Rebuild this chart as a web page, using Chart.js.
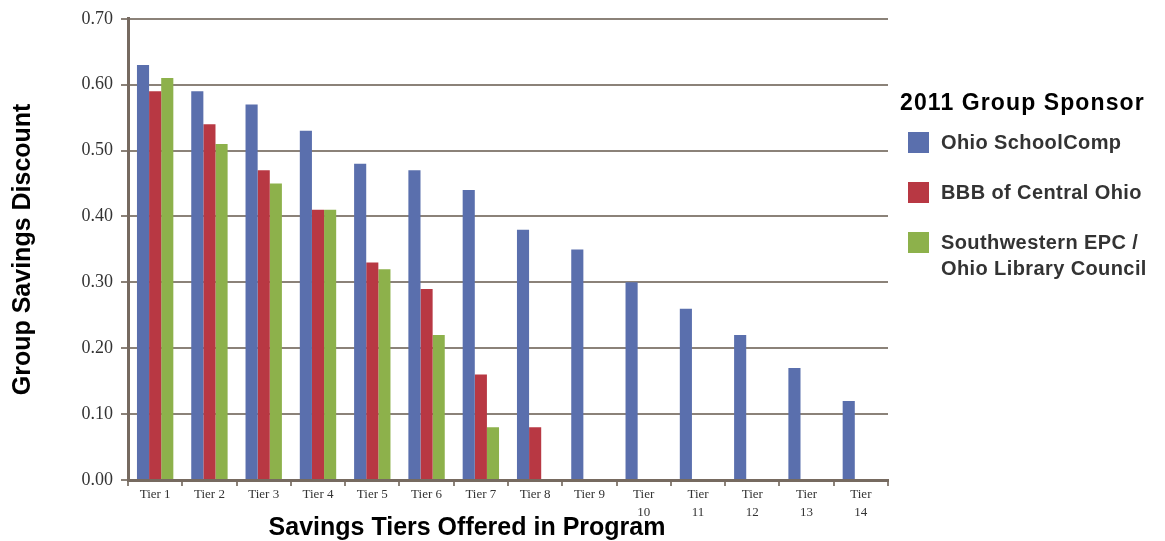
<!DOCTYPE html>
<html>
<head>
<meta charset="utf-8">
<script src="https://cdn.jsdelivr.net/npm/chart.js@4"></script>
<style>
  html, body { margin: 0; padding: 0; background: #fff; }
  #wrap { position: relative; width: 1165px; height: 541px; }
  #legend {
    position: absolute; left: 900px; top: 89px;
    font-family: "Liberation Sans", Arial, sans-serif; font-weight: bold;
  }
  #legend .title { font-size: 23px; letter-spacing: 1.1px; color: #000; margin-bottom: 16px; }
  #legend .item { display: flex; align-items: flex-start; margin: 0 0 27px 8px; }
  #legend .box { width: 21px; height: 21px; margin-right: 12px; flex: none; }
  #legend .lbl { font-size: 20px; letter-spacing: 0.4px; color: #333; line-height: 26px; margin-top: -3px; }
</style>
</head>
<body>
<div id="wrap">
  <canvas id="barChart" width="1165" height="541"></canvas>
  <div id="legend"></div>
</div>
<script>
// Savings discount per tier for each 2011 group sponsor
const tiers = ['Tier 1', 'Tier 2', 'Tier 3', 'Tier 4', 'Tier 5', 'Tier 6', 'Tier 7',
  'Tier 8', 'Tier 9', ['Tier', '10'], ['Tier', '11'], ['Tier', '12'], ['Tier', '13'], ['Tier', '14']];
const schoolComp = [0.63, 0.59, 0.57, 0.53, 0.48, 0.47, 0.44, 0.38, 0.35, 0.30, 0.26, 0.22, 0.17, 0.12];
const bbbCentral = [0.59, 0.54, 0.47, 0.41, 0.33, 0.29, 0.16, 0.08, null, null, null, null, null, null];
const southwestern = [0.61, 0.51, 0.45, 0.41, 0.32, 0.22, 0.08, null, null, null, null, null, null, null];

const sponsors = [
  { name: ['Ohio SchoolComp'], data: schoolComp, color: '#5a6fad' },
  { name: ['BBB of Central Ohio'], data: bbbCentral, color: '#b83843' },
  { name: ['Southwestern EPC /', 'Ohio Library Council'], data: southwestern, color: '#8db14b' }
];

const gridColor = '#8b8279';
const axisColor = '#766a60';
const titleFont = '"Liberation Sans", Arial, sans-serif';

// x-axis title sits a little left of the plot centre, so draw it by hand
const xTitle = {
  id: 'xTitle',
  afterDraw(chart) {
    const c = chart.ctx;
    c.save();
    c.font = 'bold 25px ' + titleFont;
    c.fillStyle = '#000';
    c.textAlign = 'center';
    c.textBaseline = 'middle';
    c.fillText('Savings Tiers Offered in Program', 467, 528);
    c.restore();
  }
};

const ctx = document.getElementById('barChart').getContext('2d');
const barChart = new Chart(ctx, {
  type: 'bar',
  data: {
    labels: tiers,
    datasets: sponsors.map(s => ({
      label: s.name.join(' '),
      data: s.data,
      backgroundColor: s.color,
      barPercentage: 1,
      categoryPercentage: 0.67
    }))
  },
  options: {
    responsive: false,
    animation: false,
    layout: { padding: { left: 0, right: 277, top: 14, bottom: 0 } },
    plugins: {
      legend: { display: false },
      tooltip: { enabled: false }
    },
    scales: {
      x: {
        afterFit: s => { s.height = 61; },
        grid: { drawOnChartArea: false, offset: true, tickLength: 6, color: gridColor, lineWidth: 2 },
        border: { color: axisColor, width: 3 },
        ticks: {
          color: '#333',
          padding: 0,
          font: { family: '"Liberation Serif", "Times New Roman", serif', size: 13, lineHeight: 1.35 },
          maxRotation: 0, autoSkip: false
        }
      },
      y: {
        min: 0, max: 0.7,
        afterFit: s => { s.width = 128; },
        grid: { color: gridColor, lineWidth: 2, tickLength: 7 },
        border: { color: axisColor, width: 3 },
        ticks: {
          stepSize: 0.1,
          color: '#333',
          padding: 8,
          font: { family: '"Liberation Serif", "Times New Roman", serif', size: 18 },
          callback: v => v.toFixed(2)
        },
        title: {
          display: true,
          text: 'Group Savings Discount',
          color: '#000',
          padding: { top: 8, bottom: 0 },
          font: { family: titleFont, size: 25, weight: 'bold' }
        }
      }
    }
  },
  plugins: [xTitle]
});

// Legend drawn beside the chart so the last entry can wrap onto two lines
const legend = document.getElementById('legend');
legend.innerHTML = '<div class="title">2011 Group Sponsor</div>' +
  sponsors.map(s => '<div class="item"><div class="box" style="background:' + s.color +
    '"></div><div class="lbl">' + s.name.join('<br>') + '</div></div>').join('');
</script>
</body>
</html>
